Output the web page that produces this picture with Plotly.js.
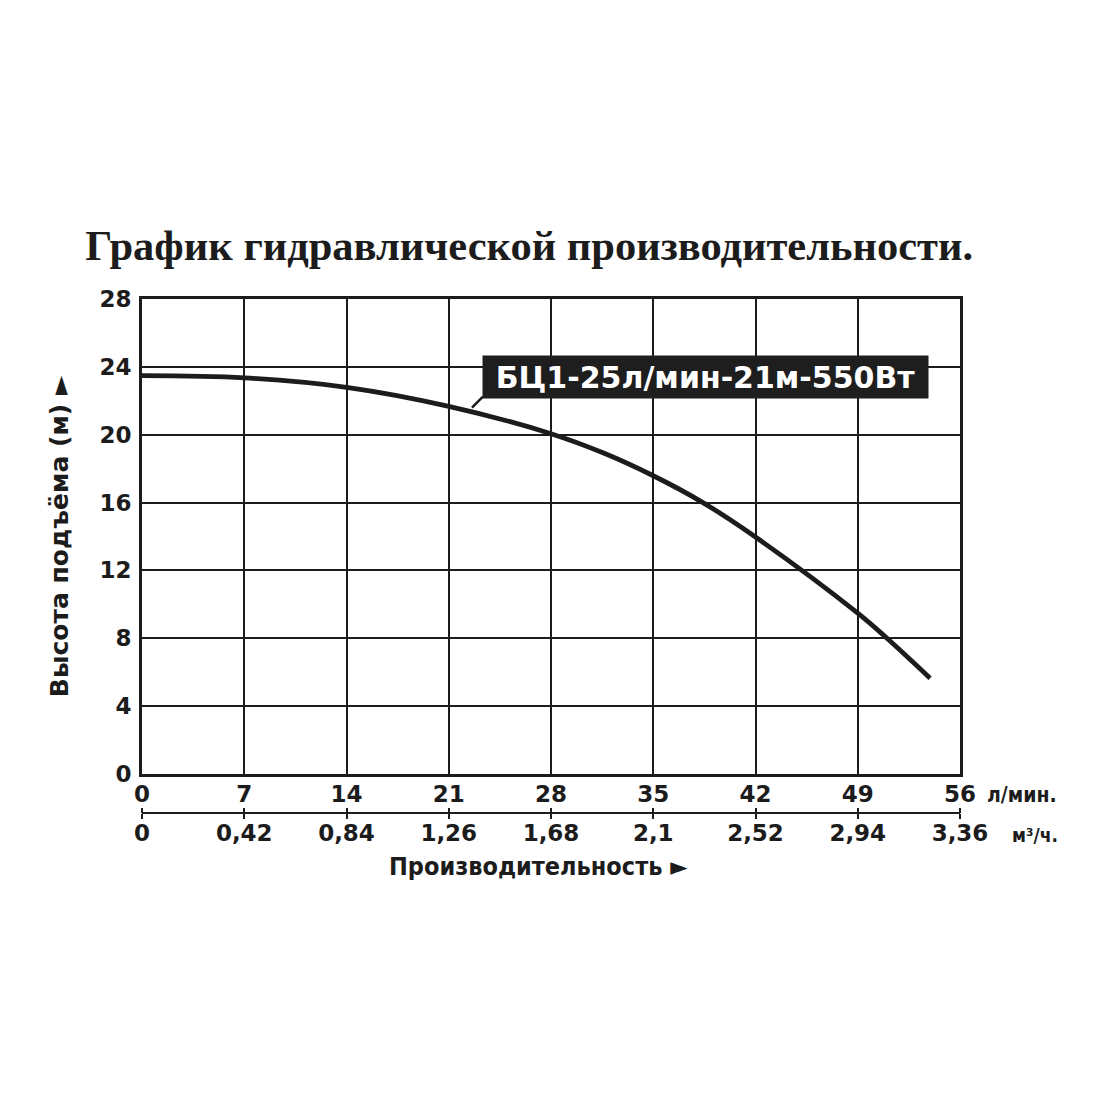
<!DOCTYPE html>
<html><head><meta charset="utf-8">
<script src="https://cdn.plot.ly/plotly-3.0.1.min.js"></script>
<style>body{margin:0;background:#fff}#c{width:1100px;height:1100px}</style>
</head><body><div id="c"></div>
<script>
// Flow (л/мин) and head (м) of the pump curve
const flowLpm = [0, 7, 14, 21, 28, 31.6, 35, 38.4, 42, 49, 51, 53.95];
const headM   = [23.48, 23.35, 22.79, 21.67, 20.06, 18.92, 17.58, 16.0, 13.97, 9.48, 8.0, 5.65];
const seriesName = "БЦ1-25л/мин-21м-550Вт";
const lpmTicks = [0, 7, 14, 21, 28, 35, 42, 49, 56];
const m3hTicks = [0, 0.42, 0.84, 1.26, 1.68, 2.1, 2.52, 2.94, 3.36];
const m3hLabels = ["0", "0,42", "0,84", "1,26", "1,68", "2,1", "2,52", "2,94", "3,36"];
const headTicks = [0, 4, 8, 12, 16, 20, 24, 28];

const dark = "#1c1c1c";
const tickFont = {family: "DejaVu Sans", size: 23, color: dark, weight: 700};

const trace = {
  x: flowLpm, y: headM, type: "scatter", mode: "lines",
  line: {color: dark, width: 4.8, shape: "spline", smoothing: 1},
  name: seriesName, hoverinfo: "skip", showlegend: false
};
// dummy traces to activate secondary axes
const t2 = {x: [0, 3.36], y: [0, 0], xaxis: "x2", yaxis: "y", mode: "none", hoverinfo: "skip", showlegend: false};
const t3 = {x: [0, 3.36], y: [0, 0], xaxis: "x3", yaxis: "y", mode: "none", hoverinfo: "skip", showlegend: false};

const paperH = 850 - 299, paperW = 1100 - 142 - 140;
const layout = {
  width: 1100, height: 1100,
  paper_bgcolor: "#fff", plot_bgcolor: "#fff",
  margin: {l: 142, r: 140, t: 299, b: 250, pad: 0},
  showlegend: false,
  title: {text: "<b>График гидравлической производительности.</b>",
    font: {family: "Liberation Serif, Times New Roman, serif", size: 42.5, color: dark},
    x: 0.481, xanchor: "center", y: 1 - 245/1100, yanchor: "middle", yref: "container"},
  xaxis: {
    range: [0, 56], tickvals: lpmTicks, ticktext: lpmTicks.map(String),
    showgrid: true, gridcolor: dark, gridwidth: 2,
    showline: true, linecolor: dark, linewidth: 3, mirror: true,
    ticks: "", tickfont: tickFont, ticklabelstandoff: -3,
    zeroline: false, fixedrange: true
  },
  xaxis2: {
    overlaying: "x", anchor: "free", position: (850 - 812.5) / paperH, side: "bottom",
    range: [0, 3.36], tickvals: m3hTicks, ticktext: m3hLabels,
    showgrid: false, showline: true, linecolor: dark, linewidth: 2.5,
    ticks: "outside", ticklen: 5, tickwidth: 2, tickcolor: dark,
    tickfont: tickFont, ticklabelstandoff: -6, zeroline: false, fixedrange: true
  },
  xaxis3: {
    overlaying: "x", anchor: "free", position: (850 - 812.5) / paperH, side: "top",
    range: [0, 3.36], tickvals: m3hTicks, showticklabels: false,
    showgrid: false, showline: false,
    ticks: "outside", ticklen: 5, tickwidth: 2, tickcolor: dark,
    zeroline: false, fixedrange: true
  },
  yaxis: {
    domain: [(850 - 774) / paperH, 1],
    range: [0, 28], tickvals: headTicks, ticktext: headTicks.map(String),
    showgrid: true, gridcolor: dark, gridwidth: 2,
    showline: true, linecolor: dark, linewidth: 3, mirror: true,
    ticks: "", tickfont: tickFont,
    ticklabelstandoff: 3, zeroline: false, fixedrange: true,
    title: {text: "Высота подъёма (м) ►", standoff: 24,
      font: {family: "DejaVu Sans", size: 25, color: dark, weight: 700}}
  },
  annotations: [
    {xref: "x", yref: "y", x: 38.59, y: 23.41, text: "<b>" + seriesName + "</b>",
     showarrow: false, bgcolor: "#1e1e1e", borderpad: 3, width: 439, height: 36,
     xanchor: "center", yanchor: "middle", align: "center", valign: "middle",
     font: {family: "DejaVu Sans", size: 30, color: "#fff"}},
    {xref: "paper", yref: "paper", x: (985 - 142) / paperW, y: (850 - 795) / paperH, xanchor: "left", yanchor: "middle",
     text: "<b>л/мин.</b>", showarrow: false,
     font: {family: "DejaVu Sans Condensed, DejaVu Sans", size: 21, color: dark}},
    {xref: "paper", yref: "paper", x: (1010 - 142) / paperW, y: (850 - 835) / paperH, xanchor: "left", yanchor: "middle",
     text: "<b>м³/ч.</b>", showarrow: false,
     font: {family: "DejaVu Sans Condensed, DejaVu Sans", size: 19, color: dark}},
    {xref: "paper", yref: "paper", x: (538 - 142) / paperW, y: (850 - 866) / paperH, xanchor: "center", yanchor: "middle",
     text: "<b>Производительность ►</b>", showarrow: false,
     font: {family: "DejaVu Sans Condensed, DejaVu Sans", size: 25, color: dark}}
  ],
  shapes: [
    {type: "line", xref: "x", yref: "y", x0: 22.59, y0: 21.59, x1: 23.34, y1: 22.24,
     line: {color: dark, width: 2.5}}
  ]
};

Plotly.newPlot("c", [trace, t2, t3], layout, {displayModeBar: false, staticPlot: true});
</script>
</body></html>
